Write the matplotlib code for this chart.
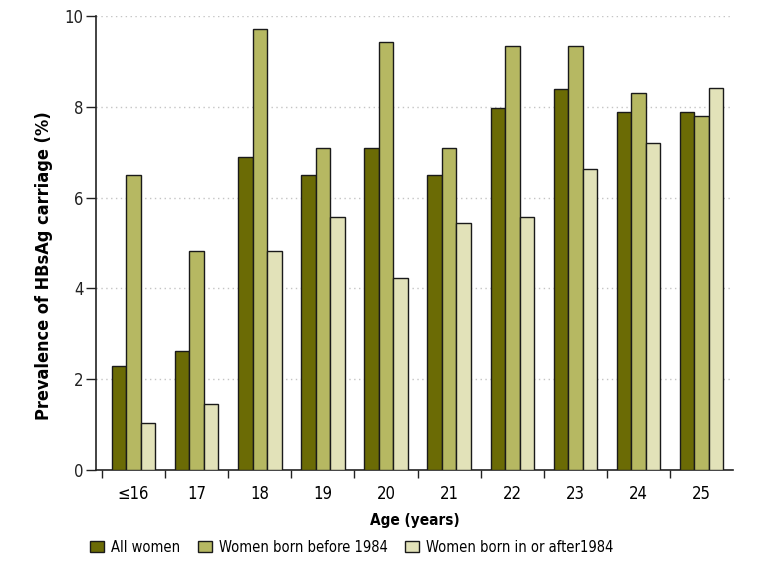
import matplotlib.pyplot as plt
import numpy as np

plt.rcParams['font.family'] = ['DejaVu Sans']
plt.rcParams['font.stretch'] = 'condensed'

ages = ["≤16", "17", "18", "19", "20", "21", "22", "23", "24", "25"]
all_women = [2.30, 2.63, 6.90, 6.50, 7.10, 6.50, 7.98, 8.40, 7.89, 7.89]
born_before = [6.50, 4.82, 9.72, 7.10, 9.42, 7.10, 9.33, 9.33, 8.30, 7.80]
born_after = [1.03, 1.45, 4.82, 5.57, 4.23, 5.43, 5.57, 6.63, 7.21, 8.41]

labels = ["All women", "Women born before 1984", "Women born in or after1984"]
colors = ["#6b6b05", "#b6b862", "#e2e2b9"]

fig = plt.figure(figsize=(7.71, 5.62), dpi=100)
ax = fig.add_axes([0.1245, 0.1637, 0.8265, 0.8078])

x = np.arange(len(ages))
w = 0.23
for i, (vals, lab, c) in enumerate(zip([all_women, born_before, born_after], labels, colors)):
    ax.bar(x + (i - 1) * w, vals, w, color=c, edgecolor="#1a1a1a", linewidth=1.0,
           label=lab, zorder=3)

ax.set_ylim(0, 10)
ax.set_xlim(-0.595, 9.5)
ax.set_yticks(range(0, 11, 2))
ax.tick_params(axis="y", length=7, width=1, labelsize=12, colors="#222222", pad=2)
for yv in range(2, 11, 2):
    ax.axhline(yv, color="#c4c4c4", linestyle=(0, (1, 2.5)), linewidth=1, zorder=1)

ax.set_xticks(x - 0.5)
ax.set_xticklabels([])
ax.tick_params(axis="x", which="major", length=6, width=1, colors="#222222")
ax.set_xticks(x, minor=True)
ax.set_xticklabels(ages, minor=True, fontsize=12)
ax.tick_params(axis="x", which="minor", length=0, pad=11)

for s in ["top", "right"]:
    ax.spines[s].set_visible(False)
for s in ["left", "bottom"]:
    ax.spines[s].set_linewidth(1.2)
    ax.spines[s].set_color("#222222")

ax.set_xlabel("Age (years)", fontsize=11, fontweight="bold", labelpad=7)
ax.set_ylabel("Prevalence of HBsAg carriage (%)", fontsize=13, fontweight="bold")
ax.yaxis.set_label_coords(-0.0675, 0.45)

fig.legend(loc="center left", bbox_to_anchor=(90 / 771, 15 / 562), ncol=3, frameon=False,
           fontsize=10.5, handlelength=0.95, handleheight=0.7, handletextpad=0.5,
           columnspacing=1.2, borderpad=0, borderaxespad=0)

fig.savefig("out.png", dpi=100)
